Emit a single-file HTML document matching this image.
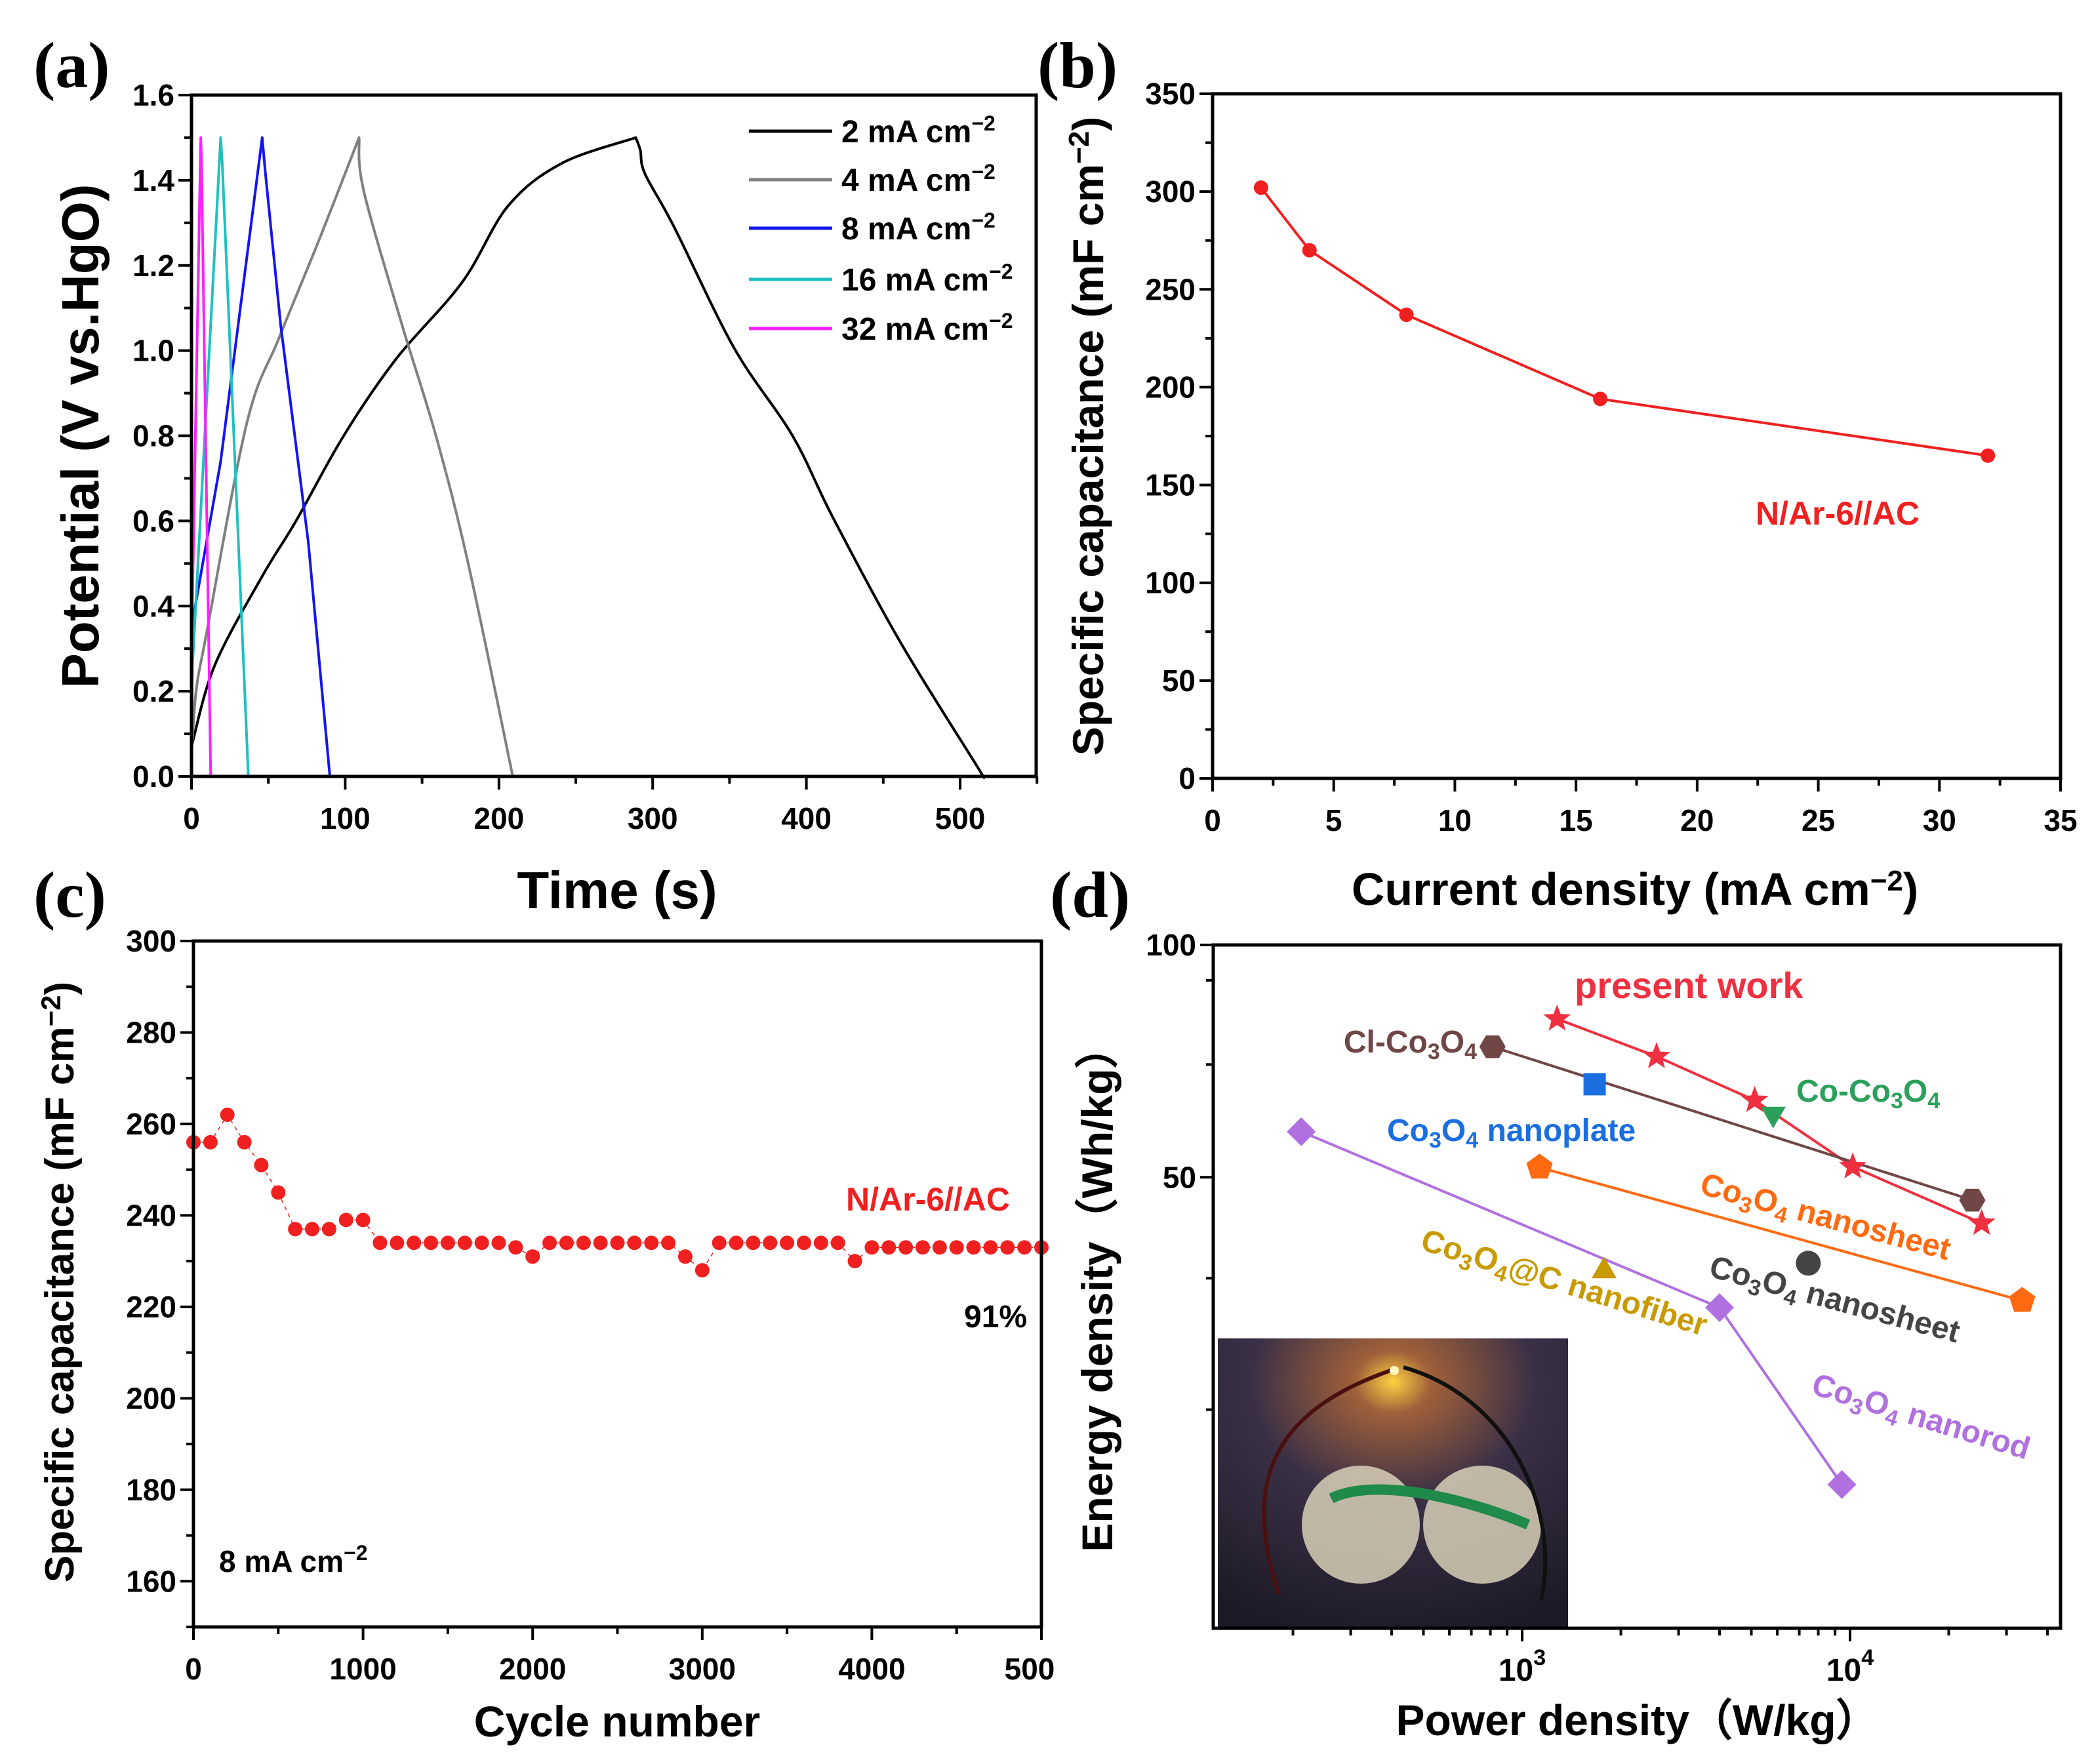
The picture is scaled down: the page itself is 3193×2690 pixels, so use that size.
<!DOCTYPE html>
<html><head><meta charset="utf-8"><style>
html,body{margin:0;padding:0;background:#fff}
svg{display:block}
text{font-family:"Liberation Sans",Arial,sans-serif;font-weight:bold}
.pl{font-family:"Liberation Serif",serif;font-weight:bold}
</style></head><body>
<svg id="fig" width="3193" height="2690" viewBox="0 0 3193 2690" xmlns="http://www.w3.org/2000/svg"></svg>
<script>
// ---- Panel (a) data ----
const aSeriesNames=["2 mA cm","4 mA cm","8 mA cm","16 mA cm","32 mA cm"];
const aColors=["#000","#808080","#1515ee","#20c0c0","#ff20ff"];
const aT2=[0,15,46,68,99,133,176,206,241,289,292,295,314,353,391,417,461,510,515];
const aV2=[0.07,0.26,0.47,0.6,0.8,0.98,1.16,1.34,1.44,1.5,1.47,1.415,1.29,1.006,0.8,0.61,0.316,0.03,0];
const aT4=[0,3,10,36,57,83,109,112,137,159,180,209];
const aV4=[0.05,0.2,0.34,0.83,1.03,1.26,1.5,1.376,1.06,0.8,0.5,0];
const aT8=[0,1,19,46,48,58,76,90];
const aV8=[0.1,0.37,0.74,1.5,1.42,1.06,0.55,0];
const aT16=[0,0.5,19,20,37];
const aV16=[0.1,0.25,1.5,1.44,0];
const aT32=[0,0.3,6,6.5,12.5];
const aV32=[0.1,0.35,1.5,1.45,0];
// ---- Panel (b) data ----
const bX=[2,4,8,16,32];
const bY=[302,270,237,194,165];
// ---- Panel (c) data ----
const cY=[256,256,262,256,251,245,237,237,237,239,239,234,234,234,234,234,234,234,234,233,231,234,234,234,234,234,234,234,234,231,228,234,234,234,234,234,234,234,234,230,233,233,233,233,233,233,233,233,233,233,233];
// ---- Panel (d) data ----
const dPresentX=[1278,2570,5120,10190,25200];
const dPresentY=[80.2,71.7,62.9,51.6,43.6];
const dClX=[812,23600]; const dClY=[73.8,46.7];
const dSheetX=[1130,33500]; const dSheetY=[51.5,34.6];
const dRodX=[212,4000,9440]; const dRodY=[57.3,33.9,20.0];
const dPlateX=[1664]; const dPlateY=[66];
const dCoX=[5830]; const dCoY=[60.4];
const dGrayX=[7460]; const dGrayY=[38.7];
const dFiberX=[1778]; const dFiberY=[37.8];

const svg=document.getElementById('fig');
const NS="http://www.w3.org/2000/svg";
function mk(tag,attrs,parent){const e=document.createElementNS(NS,tag);for(const k in attrs)e.setAttribute(k,attrs[k]);(parent||svg).appendChild(e);return e;}
function txt(s,x,y,size,anchor,fill,parent,extra){const t=mk('text',Object.assign({x:x,y:y,'font-size':size,'text-anchor':anchor||'middle',fill:fill||'#000'},extra||{}),parent);t.innerHTML=s;return t;}

function linMap(d0,d1,p0,p1){return v=>p0+(v-d0)/(d1-d0)*(p1-p0);}
function logMap(d0,d1,p0,p1){return v=>p0+(Math.log10(v)-Math.log10(d0))/(Math.log10(d1)-Math.log10(d0))*(p1-p0);}

function frame(g,L,T,R,B){const r=mk('rect',{x:L,y:T,width:R-L,height:B-T,fill:'none',stroke:'#000','stroke-width':5},g);}
function xTicks(g,sx,B,majors,minors,labels,fs){
 minors.forEach(v=>mk('line',{x1:sx(v),x2:sx(v),y1:B,y2:B+11,stroke:'#000','stroke-width':4},g));
 majors.forEach((v,i)=>{mk('line',{x1:sx(v),x2:sx(v),y1:B,y2:B+20,stroke:'#000','stroke-width':4},g);
  if(labels[i]!==null){const t=txt(labels[i],sx(v),B+80,fs||46,'middle','#000',g);}});
}
function yTicks(g,sy,L,majors,minors,labels,fs){
 minors.forEach(v=>mk('line',{x1:L-11,x2:L,y1:sy(v),y2:sy(v),stroke:'#000','stroke-width':4},g));
 majors.forEach((v,i)=>{mk('line',{x1:L-20,x2:L,y1:sy(v),y2:sy(v),stroke:'#000','stroke-width':4},g);
  if(labels[i]!==null){const t=txt(labels[i],L-26,sy(v)+16,fs||46,'end','#000',g);}});
}
function range(a,b,s){const r=[];for(let v=a;v<=b+1e-9;v+=s)r.push(+v.toFixed(6));return r;}
function poly(g,xs,ys,sx,sy,color,w){const p=xs.map((x,i)=>sx(x).toFixed(1)+','+sy(ys[i]).toFixed(1)).join(' ');return mk('polyline',{points:p,fill:'none',stroke:color,'stroke-width':w,'stroke-linejoin':'round'},g);}
function crSeg(P){
 let d='';
 for(let i=0;i<P.length-1;i++){const p0=P[i-1]||P[i],p1=P[i],p2=P[i+1],p3=P[i+2]||P[i+1];
  const c1=[p1[0]+(p2[0]-p0[0])/6,p1[1]+(p2[1]-p0[1])/6],c2=[p2[0]-(p3[0]-p1[0])/6,p2[1]-(p3[1]-p1[1])/6];
  d+=' C'+c1[0].toFixed(1)+' '+c1[1].toFixed(1)+' '+c2[0].toFixed(1)+' '+c2[1].toFixed(1)+' '+p2[0].toFixed(1)+' '+p2[1].toFixed(1);}
 return d;}
function smoothCurve(g,xs,ys,sx,sy,color,w){
 if(xs.length<10) return poly(g,xs,ys,sx,sy,color,w);
 let pk=0;ys.forEach((v,i)=>{if(v>ys[pk])pk=i;});
 const P=xs.map((x,i)=>[sx(x),sy(ys[i])]);
 const A=P.slice(0,pk+1),Bp=P.slice(pk);
 const d='M'+A[0][0].toFixed(1)+' '+A[0][1].toFixed(1)+crSeg(A)+crSeg(Bp);
 return mk('path',{d:d,fill:'none',stroke:color,'stroke-width':w,'stroke-linejoin':'round'},g);}

// ================= Panel (a) =================
{
const g=mk('g',{});  
const L=292,R=1580,T=145,B=1184;
const sx=linMap(0,500,292,1464), sy=linMap(0,1.6,B,T);
const ts=[aT2,aT4,aT8,aT16,aT32], vs=[aV2,aV4,aV8,aV16,aV32];
ts.forEach((t,i)=>{const p=smoothCurve(g,t,vs[i],sx,sy,aColors[i],4);});
frame(g,L,T,R,B);
xTicks(g,sx,B,range(0,500,100),range(50,550,100),range(0,500,100).map(String));
yTicks(g,sy,L,range(0,1.6,0.2),range(0.1,1.5,0.2),range(0,1.6,0.2).map(v=>v.toFixed(1)));
const yl=txt('Potential (V vs.HgO)',0,0,80,'middle','#000',g,{transform:'translate(150,665) rotate(-90)'});
const xl=txt('Time (s)',941,1385,80,'middle','#000',g);
const lg=mk('g',{},g);
const ly=[200,274,348,426,501];
aSeriesNames.forEach((n,i)=>{mk('line',{x1:1142,x2:1269,y1:ly[i],y2:ly[i],stroke:aColors[i],'stroke-width':5},lg);
 const t=txt(n+'<tspan dy="-18" font-size="32">−2</tspan>',1283,ly[i]+17,48,'start','#000',lg);});
const pl=txt('(a)',51,133,100,'start','#000',g,{class:'pl'});
}
// ================= Panel (b) =================
{
const g=mk('g',{});  
const L=1849,R=3142,T=143,B=1187;
const sx=linMap(0,35,L,R), sy=linMap(0,350,B,T);
const p=poly(g,bX,bY,sx,sy,'#f02020',4);
bX.forEach((x,i)=>{const c=mk('circle',{cx:sx(x),cy:sy(bY[i]),r:11,fill:'#f02020'},g);});
frame(g,L,T,R,B);
xTicks(g,sx,B,range(0,35,5),range(2.5,32.5,5),range(0,35,5).map(String));
yTicks(g,sy,L,range(0,350,50),range(25,325,50),range(0,350,50).map(String));
const yl=txt('Specific capacitance (mF cm<tspan dy="-22" font-size="44">−2</tspan><tspan dy="22">)</tspan>',0,0,66,'middle','#000',g,{transform:'translate(1682,665) rotate(-90)'});
const xl=txt('Current density (mA cm<tspan dy="-22" font-size="44">−2</tspan><tspan dy="22">)</tspan>',2493,1380,70,'middle','#000',g);
const an=txt('N/Ar-6//AC',2677,800,50,'start','#f02020',g);
const pl=txt('(b)',1582,133,100,'start','#000',g,{class:'pl'});
}
// ================= Panel (c) =================
{
const g=mk('g',{});  
const L=295,R=1588,T=1435,B=2481;
const sx=linMap(0,5000,L,R), sy=linMap(150,300,B,T);
const cX=cY.map((_,i)=>i*100);
const p=poly(g,cX,cY,sx,sy,'#f02020',1.5);p.setAttribute('stroke-dasharray','6,6');
cX.forEach((x,i)=>{const c=mk('circle',{cx:sx(x),cy:sy(cY[i]),r:11,fill:'#f02020'},g);});
frame(g,L,T,R,B);
xTicks(g,sx,B,range(0,5000,1000),range(500,4500,1000),['0','1000','2000','3000','4000',null]);
const t5=txt('500',1570,B+80,46,'middle','#000',g);
yTicks(g,sy,L,range(160,300,20),range(150,290,10).filter(v=>v%20!==0),range(160,300,20).map(String));
const yl=txt('Specific capacitance (mF cm<tspan dy="-20" font-size="42">−2</tspan><tspan dy="20">)</tspan>',0,0,62,'middle','#000',g,{transform:'translate(112,1955) rotate(-90)'});
const xl=txt('Cycle number',941,2648,66,'middle','#000',g);
const an=txt('N/Ar-6//AC',1290,1846,50,'start','#f02020',g);
const rt=txt('91%',1470,2024,48,'start','#000',g);
const cd=txt('8 mA cm<tspan dy="-18" font-size="32">−2</tspan>',334,2397,46,'start','#000',g);
const pl=txt('(c)',51,1398,100,'start','#000',g,{class:'pl'});
}
// ================= Panel (d) =================
{
const g=mk('g',{});  
const L=1850,R=3142,T=1441,B=2483;
const sx=logMap(1000,10000,2321,2821);
const sy=v=>T+(2-Math.log10(v))*1177;
const ph=mk('g',{},g);
const df=mk('defs',{},ph);
const rg=mk('radialGradient',{id:'glow',cx:'0.5',cy:'0.15',r:'0.9'},df);
mk('stop',{offset:'0',"stop-color":'#ffd040'},rg);mk('stop',{offset:'0.12',"stop-color":'#a0603a'},rg);mk('stop',{offset:'0.45',"stop-color":'#3a3046'},rg);mk('stop',{offset:'1',"stop-color":'#1c1a26'},rg);
mk('rect',{x:1857,y:2041,width:534,height:442,fill:'url(#glow)'},ph);
mk('circle',{cx:2075,cy:2325,r:90,fill:'#d8d0b8',opacity:0.85},ph);
mk('circle',{cx:2260,cy:2325,r:90,fill:'#d8d0b8',opacity:0.85},ph);
mk('path',{d:'M2030 2285 C2100 2250 2250 2290 2330 2325',fill:'none',stroke:'#1f8a4a','stroke-width':16},ph);
mk('path',{d:'M2120 2090 C1950 2150 1890 2250 1950 2430',fill:'none',stroke:'#4a1010','stroke-width':6},ph);
mk('path',{d:'M2140 2085 C2300 2130 2380 2300 2350 2440',fill:'none',stroke:'#101010','stroke-width':6},ph);
mk('circle',{cx:2126,cy:2090,r:7,fill:'#fff6c0'},ph);
const lines=[[dPresentX,dPresentY,'#ee3040'],[dClX,dClY,'#704646'],[dSheetX,dSheetY,'#ff6a10'],[dRodX,dRodY,'#b070e0']];
const lnames=['present-work-line','cl-co3o4-line','co3o4-nanosheet-line','co3o4-nanorod-line'];
lines.forEach((l,i)=>{const p=poly(g,l[0],l[1],sx,sy,l[2],4);});
function star(x,y,r,c){const pts=[];for(let k=0;k<10;k++){const a=-Math.PI/2+k*Math.PI/5;const rr=k%2?r*0.42:r;pts.push((x+rr*Math.cos(a)).toFixed(1)+','+(y+rr*Math.sin(a)).toFixed(1));}return mk('polygon',{points:pts.join(' '),fill:c},g);}
function ngon(x,y,r,n,rot,c){const pts=[];for(let k=0;k<n;k++){const a=rot+k*2*Math.PI/n;pts.push((x+r*Math.cos(a)).toFixed(1)+','+(y+r*Math.sin(a)).toFixed(1));}return mk('polygon',{points:pts.join(' '),fill:c},g);}
function nm(e,n){}
dPresentX.forEach((x,i)=>nm(star(sx(x),sy(dPresentY[i]),22,'#ee3040'),'present-work-marker'));
dClX.forEach((x,i)=>nm(ngon(sx(x),sy(dClY[i]),20,6,0,'#704646'),'cl-co3o4-marker'));
dSheetX.forEach((x,i)=>nm(ngon(sx(x),sy(dSheetY[i]),21,5,-Math.PI/2,'#ff6a10'),'co3o4-nanosheet-marker'));
dRodX.forEach((x,i)=>nm(ngon(sx(x),sy(dRodY[i]),22,4,-Math.PI/2,'#b070e0'),'co3o4-nanorod-marker'));
dPlateX.forEach((x,i)=>nm(mk('rect',{x:sx(x)-17,y:sy(dPlateY[i])-17,width:34,height:34,fill:'#1a6ee0'},g),'co3o4-nanoplate-marker'));
dCoX.forEach((x,i)=>nm(ngon(sx(x),sy(dCoY[i]),22,3,Math.PI/2,'#2ca05a'),'co-co3o4-marker'));
dGrayX.forEach((x,i)=>nm(mk('circle',{cx:sx(x),cy:sy(dGrayY[i]),r:19,fill:'#444'},g),'co3o4-nanosheet-gray-marker'));
dFiberX.forEach((x,i)=>nm(ngon(sx(x),sy(dFiberY[i]),22,3,-Math.PI/2,'#c89a00'),'co3o4-c-nanofiber-marker'));
frame(g,L,T,R,B);
const minorsX=[];[100,1000,10000].forEach(d=>{for(let k=2;k<=9;k++){const v=d*k;if(v>114&&v<43800)minorsX.push(v);}});
xTicks(g,sx,B,[1000,10000],minorsX,[null,null]);
const x3=txt('10<tspan dy="-24" font-size="34">3</tspan>',2321,B+80,48,'middle','#000',g);nm(x3,'x-tick-label');
const x4=txt('10<tspan dy="-24" font-size="34">4</tspan>',2821,B+80,48,'middle','#000',g);nm(x4,'x-tick-label');
yTicks(g,sy,L,[100,50],[90,70,37,25],['100','50']);
const Co='Co<tspan dy="10" font-size="34">3</tspan><tspan dy="-10">O</tspan><tspan dy="10" font-size="34">4</tspan><tspan dy="-10">';
const labs=[
 ['present work',2401,1522,'#ee3040',0,'start'],
 ['Cl-'+Co+'</tspan>',2252,1605,'#704646',0,'end'],
 ['Co-'+Co+'</tspan>',2739,1680,'#2ca05a',0,'start'],
 [Co+' nanoplate</tspan>',2115,1740,'#1a6ee0',0,'start'],
 [Co+' nanosheet</tspan>',2590,1820,'#ff6a10',15,'start'],
 [Co+'@C nanofiber</tspan>',2164,1905,'#c89a00',17,'start'],
 [Co+' nanosheet</tspan>',2604,1946,'#444',15,'start'],
 [Co+' nanorod</tspan>',2760,2125,'#b070e0',17,'start']];
labs.forEach(l=>{const t=txt(l[0],l[1],l[2],l[0]==='present work'?56:48,l[5],l[3],g,{transform:'rotate('+l[4]+' '+l[1]+' '+l[2]+')'});nm(t,'series-label');});
const yl=txt('Energy density（Wh/kg）',0,0,66,'middle','#000',g,{transform:'translate(1696,1965) rotate(-90)'});nm(yl,'y-axis-title');
const xl=txt('Power density（W/kg）',2497,2646,66,'middle','#000',g);nm(xl,'x-axis-title');
const pl=txt('(d)',1601,1398,100,'start','#000',g,{class:'pl'});nm(pl,'panel-label-d');
}
</script>
</body></html>
